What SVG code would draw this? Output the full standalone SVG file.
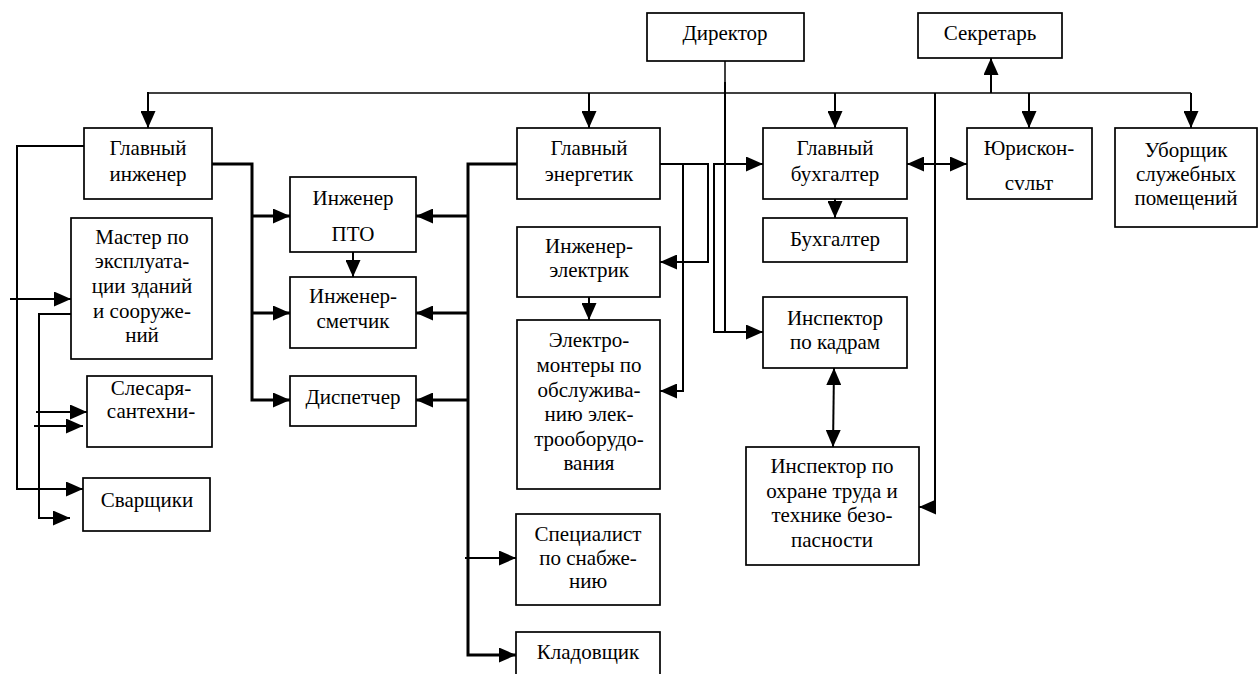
<svg xmlns="http://www.w3.org/2000/svg" width="1259" height="674" viewBox="0 0 1259 674">
<defs>
<marker id="ah" markerUnits="userSpaceOnUse" markerWidth="17" markerHeight="15" refX="17" refY="7.5" orient="auto-start-reverse">
<path d="M0,0 L17,7.5 L0,15 z" fill="#000"/>
</marker>
</defs>
<rect width="1259" height="674" fill="#fff"/>
<g id="connectors" fill="none" stroke="#000" stroke-width="2">
<path stroke-width="1.5" d="M148,93 H1191"/>
<g marker-end="url(#ah)">
<path d="M148,92 V128"/>
<path d="M589,93 V128"/>
<path d="M835,93 V128"/>
<path d="M1029,93 V128"/>
<path d="M1191,93 V128"/>
<path d="M991,93 V58"/>
<path d="M725,82 V332 H763"/>
<path d="M725,332 H714 V164 H763"/>
<path d="M660,164 H708 V262 H660"/>
<path d="M683,164 V391 H660"/>
<path d="M465,558 H516"/>
<path d="M353,252 V277"/>
<path d="M589,297 V320"/>
<path d="M835,199 V218"/>
<path d="M935,93 V507 H919"/>
<path d="M84,146 H17 V489 H83"/>
<path d="M10,299 H71"/>
<path d="M71,314 H39 V518 H70"/>
<path d="M36,412 H87"/>
<path d="M34,426 H83"/>
</g>
<g marker-end="url(#ah)" stroke-width="3">
<path d="M212,164 H252 V400 H290"/>
<path d="M252,216 H290"/>
<path d="M252,313 H290"/>
<path d="M517,164 H468 V655 H516"/>
<path d="M468,216 H416"/>
<path d="M468,313 H416"/>
<path d="M468,400 H416"/>
</g>
<g marker-end="url(#ah)" marker-start="url(#ah)">
<path d="M834,368 L833,447"/>
<path d="M907,164 H967"/>
</g>
<path stroke-width="1.5" d="M725,61 V82"/>
</g>
<g id="nodes" font-family="Liberation Serif, serif" font-size="21" text-anchor="middle" fill="#000">
<g id="director"><rect fill="#fff" stroke="#000" stroke-width="1.7" x="647" y="13" width="157" height="48"/><text x="725" y="40">Директор</text></g>
<g id="secretary"><rect fill="#fff" stroke="#000" stroke-width="1.7" x="918" y="13" width="144" height="45"/><text x="990" y="40">Секретарь</text></g>
<g id="chief-engineer"><rect fill="#fff" stroke="#000" stroke-width="1.7" x="84" y="128" width="128" height="71"/><text x="148" y="155">Главный</text><text x="148" y="181">инженер</text></g>
<g id="master"><rect fill="#fff" stroke="#000" stroke-width="1.7" x="71" y="218" width="141" height="141"/><text x="142" y="244">Мастер по</text><text x="142" y="268">эксплуата-</text><text x="142" y="293">ции зданий</text><text x="142" y="318">и сооруже-</text><text x="142" y="342">ний</text></g>
<g id="plumbers"><rect fill="#fff" stroke="#000" stroke-width="1.7" x="87" y="376" width="125" height="71"/><text x="151" y="395">Слесаря-</text><text x="151" y="418">сантехни-</text></g>
<g id="welders"><rect fill="#fff" stroke="#000" stroke-width="1.7" x="83" y="478" width="127" height="53"/><text x="147" y="507">Сварщики</text></g>
<g id="engineer-pto"><rect fill="#fff" stroke="#000" stroke-width="1.7" x="290" y="177" width="126" height="75"/><text x="353" y="205">Инженер</text><text x="353" y="241">ПТО</text></g>
<g id="estimator"><rect fill="#fff" stroke="#000" stroke-width="1.7" x="290" y="277" width="126" height="71"/><text x="353" y="303">Инженер-</text><text x="353" y="328">сметчик</text></g>
<g id="dispatcher"><rect fill="#fff" stroke="#000" stroke-width="1.7" x="290" y="376" width="126" height="50"/><text x="353" y="404">Диспетчер</text></g>
<g id="chief-power"><rect fill="#fff" stroke="#000" stroke-width="1.7" x="517" y="128" width="143" height="71"/><text x="589" y="155">Главный</text><text x="589" y="181">энергетик</text></g>
<g id="electrical-engineer"><rect fill="#fff" stroke="#000" stroke-width="1.7" x="517" y="227" width="143" height="70"/><text x="589" y="253">Инженер-</text><text x="589" y="277">электрик</text></g>
<g id="electricians"><rect fill="#fff" stroke="#000" stroke-width="1.7" x="517" y="320" width="143" height="169"/><text x="589" y="347">Электро-</text><text x="589" y="372">монтеры по</text><text x="589" y="397">обслужива-</text><text x="589" y="421">нию элек-</text><text x="589" y="446">трооборудо-</text><text x="589" y="470">вания</text></g>
<g id="supply"><rect fill="#fff" stroke="#000" stroke-width="1.7" x="516" y="514" width="144" height="91"/><text x="588" y="541">Специалист</text><text x="588" y="565">по снабже-</text><text x="588" y="588">нию</text></g>
<g id="storekeeper"><rect fill="#fff" stroke="#000" stroke-width="1.7" x="516" y="632" width="144" height="50"/><text x="588" y="659">Кладовщик</text></g>
<g id="chief-accountant"><rect fill="#fff" stroke="#000" stroke-width="1.7" x="763" y="128" width="144" height="71"/><text x="835" y="155">Главный</text><text x="835" y="181">бухгалтер</text></g>
<g id="accountant"><rect fill="#fff" stroke="#000" stroke-width="1.7" x="763" y="218" width="144" height="44"/><text x="835" y="246">Бухгалтер</text></g>
<g id="hr"><rect fill="#fff" stroke="#000" stroke-width="1.7" x="763" y="297" width="144" height="71"/><text x="835" y="325">Инспектор</text><text x="835" y="349">по кадрам</text></g>
<g id="safety"><rect fill="#fff" stroke="#000" stroke-width="1.7" x="746" y="447" width="173" height="118"/><text x="832" y="473">Инспектор по</text><text x="832" y="498">охране труда и</text><text x="832" y="522">технике безо-</text><text x="832" y="547">пасности</text></g>
<g id="legal"><rect fill="#fff" stroke="#000" stroke-width="1.7" x="967" y="128" width="125" height="71"/><text x="1029" y="155">Юрискон-</text><text x="1029" y="190">сvльт</text></g>
<g id="cleaner"><rect fill="#fff" stroke="#000" stroke-width="1.7" x="1115" y="128" width="142" height="99"/><text x="1186" y="157">Уборщик</text><text x="1186" y="181">служебных</text><text x="1186" y="205">помещений</text></g>
</g>
</svg>
